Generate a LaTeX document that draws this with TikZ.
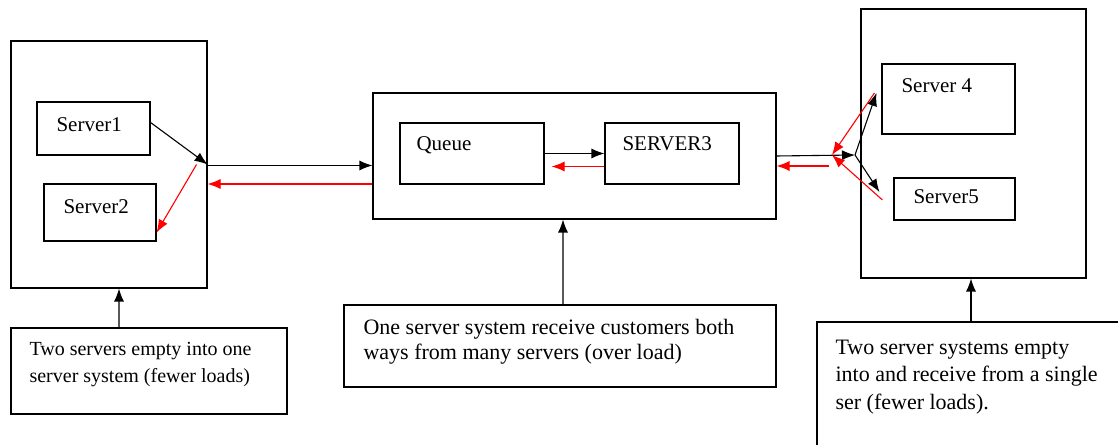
\documentclass[tikz,border=0pt]{standalone}
\usepackage{fontspec}
\setmainfont{Liberation Serif}
\usepackage{tikz}
\usetikzlibrary{arrows.meta,positioning}
\newcommand{\lbfont}{\fontsize{21bp}{25bp}\selectfont}
\newcommand{\ntfont}{\fontsize{20bp}{27bp}\selectfont}
\newcommand{\wdfont}[1]{\fontsize{22bp}{#1}\selectfont}

\begin{document}
\begin{tikzpicture}[>={Latex[length=13bp,width=10bp]}, line width=1.1bp]
      \tikzstyle{every node}=[font=\lbfont]
      \tikzstyle{box}=[draw, inner sep=0pt]
      \tikzstyle{lbl}=[anchor=base west, inner sep=0pt]
      \tikzstyle{note}=[anchor=base west, inner sep=0pt, align=left, font=\ntfont]
      \useasboundingbox (0bp,0bp) rectangle (1118bp,445bp);
      %%
  \node (sys_l) at (109bp,280.5bp) [box,minimum width=196bp,minimum height=247bp] {};
  \node (srv_1) at (93.5bp,316.5bp) [box,minimum width=113bp,minimum height=53bp] {};
  \node (srv_2) at (100bp,232.5bp) [box,minimum width=112bp,minimum height=57bp] {};
  \node (sys_m) at (574.5bp,289bp) [box,minimum width=403bp,minimum height=126bp] {};
  \node (que) at (472bp,291.5bp) [box,minimum width=144bp,minimum height=61bp] {};
  \node (srv_3) at (672bp,291.5bp) [box,minimum width=134bp,minimum height=61bp] {};
  \node (sys_r) at (973.5bp,301.5bp) [box,minimum width=225bp,minimum height=269bp] {};
  \node (srv_4) at (948.5bp,346bp) [box,minimum width=133bp,minimum height=70bp] {};
  \node (srv_5) at (954.5bp,246bp) [box,minimum width=121bp,minimum height=42bp] {};
  \node (note_l) at (149bp,74bp) [box,minimum width=276bp,minimum height=86bp] {};
  \node (note_m) at (560bp,99bp) [box,minimum width=432bp,minimum height=82bp] {};
  \node (note_r) at (973.5bp,54bp) [box,minimum width=313bp,minimum height=138bp] {};
  %% texts
  \node (srv_1_t) at (56bp,313bp) [lbl] {Server1};
  \node (srv_2_t) at (63bp,231bp) [lbl] {Server2};
  \node (que_t) at (416bp,294bp) [lbl] {Queue};
  \node (srv_3_t) at (622bp,294bp) [lbl] {SERVER3};
  \node (srv_4_t) at (901bp,352bp) [lbl] {Server 4};
  \node (srv_5_t) at (913bp,241bp) [lbl] {Server5};
  \node (note_l_t) at (29bp,62bp) [note] {Two servers empty into one\\server system (fewer loads)};
  \node (note_m_t) at (363bp,85bp) [note,font=\wdfont{25bp}] {One server system receive customers both\\ways from many servers (over load)};
  \node (note_r_t) at (835bp,36bp) [note,font=\wdfont{27.5bp}] {Two server systems empty\\into and receive from a single\\ser (fewer loads).};
  %% junctions
  \coordinate (fork) at (855bp,290bp);
  \coordinate (merge) at (832bp,290bp);
  %% connectors
  \draw [->] ([yshift=6bp]srv_1.east) -- (sys_l.east);
  \draw [->, red] ([xshift=-11bp]sys_l.east) -- ([yshift=9bp]srv_2.south east);
  \draw [->] ([yshift=-1bp]sys_l.east) -- ([yshift=-1bp]sys_l.east -| sys_m.west);
  \draw [->, red] ([yshift=-28bp]sys_m.west) -- ([yshift=-28bp]sys_m.west -| sys_l.east);
  \draw [->] (que) -- (srv_3);
  \draw [->, red] ([yshift=-13bp]srv_3.west) -- ([xshift=7bp,yshift=-13bp]que.east);
  \draw [->] (sys_m.east) -- (fork);
  \draw [->] (fork) -- ([xshift=-5bp,yshift=6bp]srv_4.west);
  \draw [->] (fork) -- ([xshift=-14bp,yshift=7bp]srv_5.west);
  \draw [->, red] ([xshift=-7bp,yshift=6bp]srv_4.west) -- (merge);
  \draw [->, red] ([xshift=-11bp,yshift=-1bp]srv_5.west) -- (merge);
  \draw [->, red] ([xshift=-3bp,yshift=-11bp]merge) -- ([yshift=-10bp]sys_m.east);
  \draw [->] ([xshift=-30bp]note_l.north) -- ([xshift=10bp]sys_l.south);
  \draw [->] ([xshift=3bp]note_m.north) -- ([xshift=-11.5bp]sys_m.south);
  \draw [->] ([xshift=-2.5bp]note_r.north) -- ([xshift=-2.5bp]sys_r.south);
%

    \end{tikzpicture}
\end{document}
